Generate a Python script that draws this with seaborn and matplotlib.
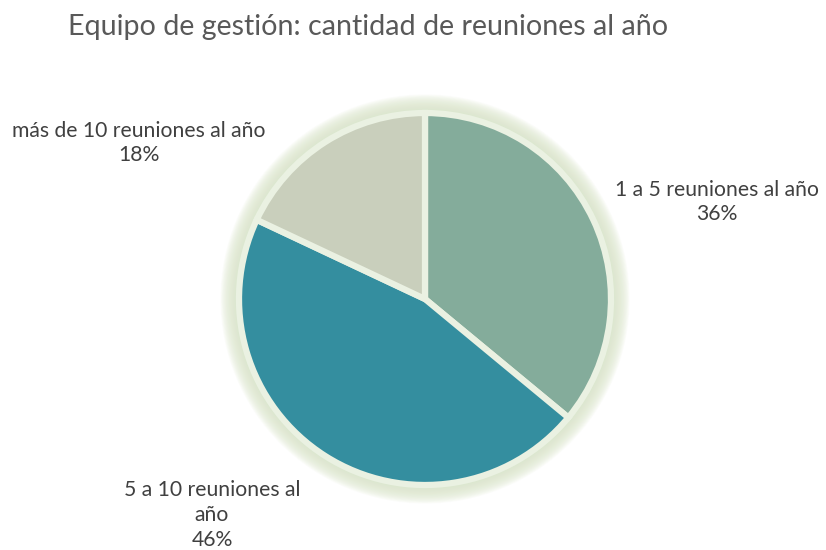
import matplotlib
matplotlib.use("Agg")
import matplotlib.pyplot as plt
import seaborn as sns
from matplotlib.patches import Circle

categories = ["1 a 5 reuniones al año", "5 a 10 reuniones al\naño", "más de 10 reuniones al año"]
values = [36, 46, 18]
colors = ["#84AC9B", "#348E9F", "#C9CFBC"]
title = "Equipo de gestión: cantidad de reuniones al año"

sns.set_theme(style="white")
plt.rcParams['font.family'] = ['Lato', 'DejaVu Sans']

W, H = 826, 550
fig = plt.figure(figsize=(W / 100, H / 100), dpi=100)
fig.patch.set_facecolor("white")

cx, cy, r = 425, 299, 186
ax = fig.add_axes([(cx - r) / W, (H - cy - r) / H, 2 * r / W, 2 * r / H])
ax.set_aspect("equal")
ax.axis("off")

# soft glow behind the pie
n = 24
for i in range(n):
    rr = 1.0 + 0.10 * (i + 1) / n
    ax.add_patch(Circle((0, 0), rr, facecolor="#DCE7CC", edgecolor="none",
                        alpha=0.09, zorder=0, clip_on=False))

wedges, _ = ax.pie(values, colors=colors, startangle=90, counterclock=False,
                   radius=1.0, center=(0, 0), frame=False,
                   wedgeprops=dict(edgecolor="#EAF1E2", linewidth=4.5))
for w in wedges:
    w.set_zorder(2)
ax.set_xlim(-1, 1)
ax.set_ylim(-1, 1)

label_pos = [(717, 202), (212, 515), (139, 143)]
for cat, v, (px, py) in zip(categories, values, label_pos):
    ax.text((px - cx) / r, (cy - py) / r, f"{cat}\n{v}%", ha="center", va="center",
            fontsize=15.2, color="#404040", linespacing=1.3, clip_on=False)

fig.text(68 / W, 1 - 27 / H, title, ha="left", va="center", fontsize=20.6, color="#595959")

fig.savefig("out.png", dpi=100, facecolor="white")
